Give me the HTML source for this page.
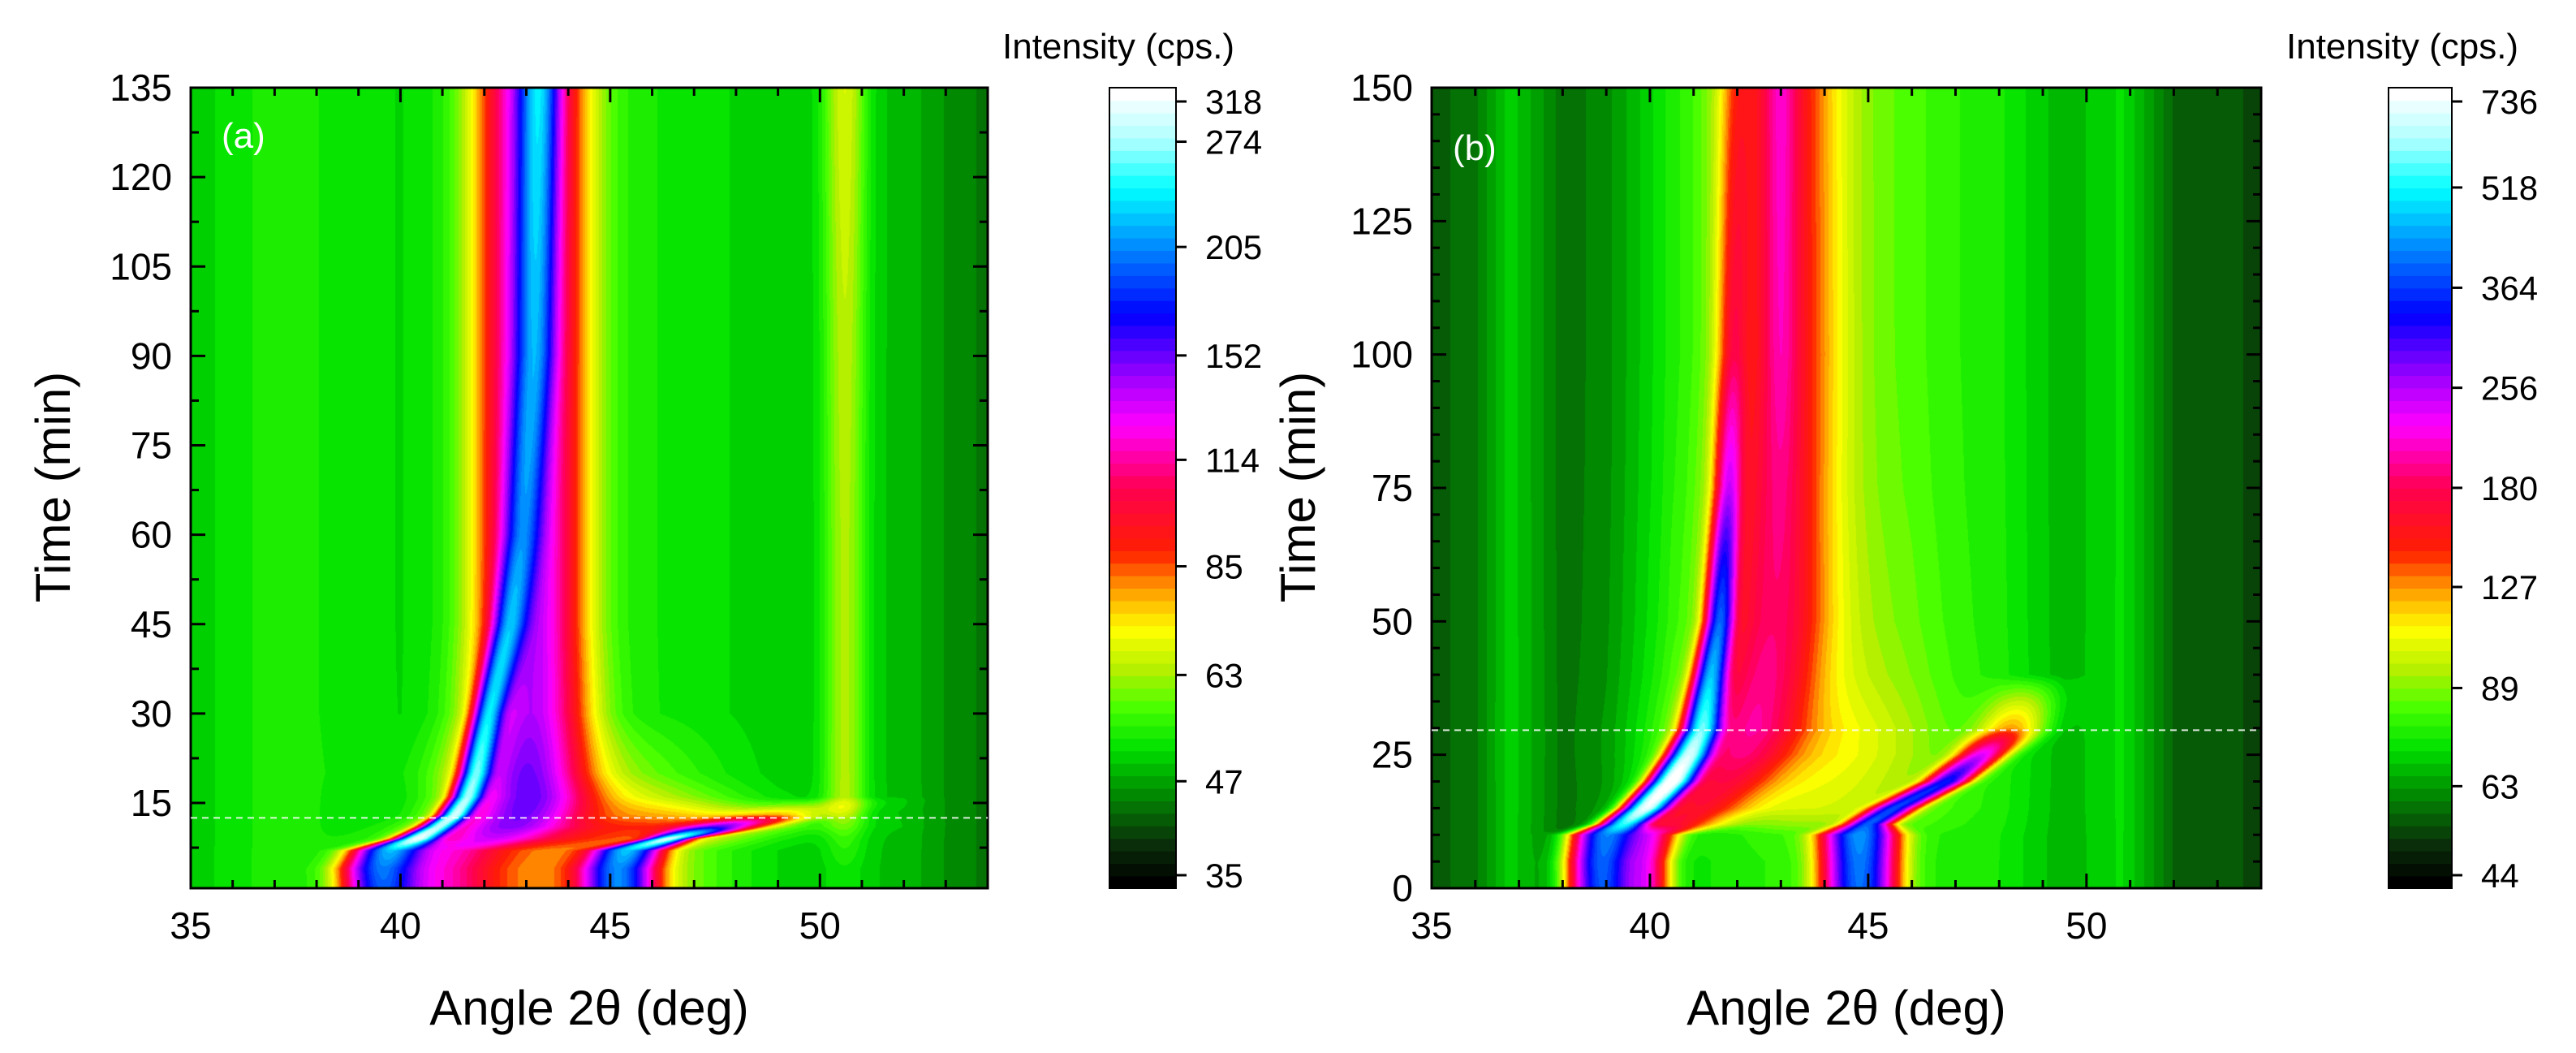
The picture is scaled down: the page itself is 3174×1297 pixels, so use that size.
<!DOCTYPE html>
<html><head><meta charset="utf-8"><style>
html,body{margin:0;padding:0;background:#fff;}
#wrap{position:relative;width:3174px;height:1297px;overflow:hidden;background:#fff;}
canvas{position:absolute;}
svg{position:absolute;left:0;top:0;}
text{font-family:"Liberation Sans",Arial,sans-serif;fill:#000;}
</style></head><body>
<div id="wrap">
<canvas id="cA" style="left:235px;top:108px" width="982" height="986"></canvas>
<canvas id="cB" style="left:1764px;top:108px" width="1022" height="986"></canvas>
<svg id="ov" width="3174" height="1297"></svg>
</div>
<script>
// ---------- Panel (a) data ----------
const timesA=[0,4,7,9,11,13,16,20,30,45,60,90,135];
const coreCenterA=[39.5,39.5,39.7,40.4,40.9,41.3,41.6,41.8,42.1,42.6,42.9,43.2,43.3];
const coreAmpA=[110,120,140,230,200,210,190,170,140,100,70,80,100];
const coreSigmaA=[0.55,0.55,0.5,0.3,0.25,0.22,0.22,0.22,0.22,0.25,0.28,0.3,0.3];
const shoulderCenterA=[40.8,40.8,41,42,42.5,42.8,43,43,43.1,43.1,43.1,43.1,43.1];
const shoulderAmpA=[60,60,60,70,85,90,90,88,85,85,85,85,85];
const shoulderSigmaA=[1.0,1.0,1.0,1.1,1.1,1.0,0.95,0.9,0.85,0.8,0.8,0.8,0.8];
const rightCenterA=[45.2,45.2,45.4,46.4,47.6,49,50.5,50.5,50.5,50.5,50.5,50.5,50.5];
const rightAmpA=[130,130,150,220,80,20,0,0,0,0,0,0,0];
const rightSigmaA=[0.55,0.55,0.5,0.3,0.6,0.8,1,1,1,1,1,1,1];
const diffuseCenterA=[44,44,44,45,46,46,45,44,44,44,44,44,44];
const diffuseAmpA=[25,25,25,30,35,25,15,10,0,0,0,0,0];
const weakAmpA=[3,3,5,6,8,12,14,14,14,14,14,15,18];
const weakCenterA=50.6;
const bgXA=[35,36,37,38,40,44,47,49,52,53,54];
const bgVA=[50,52,54,53,51,55,52,50,49,46,44];
const xTicksA=[35,40,45,50];
const yTicksA=[15,30,45,60,75,90,105,120,135];
const cbTicksA=[35,47,63,85,114,152,205,274,318];
// ---------- Panel (b) data ----------
const timesB=[0,5,10,12,15,20,25,30,40,50,75,100,150];
const coreCenterB=[38.9,38.9,39.0,39.4,39.9,40.5,40.9,41.2,41.4,41.6,41.8,41.9,42.0];
const coreAmpB=[320,330,350,450,600,650,550,450,350,280,130,60,30];
const coreSigmaB=[0.45,0.45,0.45,0.3,0.28,0.28,0.27,0.25,0.22,0.2,0.2,0.22,0.25];
const shoulderCenterB=[39.9,39.9,40,40.5,41,41.6,42,42.3,42.6,42.8,42.9,43,43.0];
const shoulderAmpB=[140,140,140,90,80,80,90,95,95,92,88,82,78];
const shoulderSigmaB=[0.35,0.35,0.4,0.7,0.8,0.8,0.8,0.8,0.8,0.8,0.8,0.8,0.8];
const narrowAmpB=[0,0,0,0,0,0,0,0,0,0,15,35,45];
const narrowCenterB=43.0;
const rightCenterB=[44.8,44.8,44.8,45.0,45.6,46.8,47.6,48.3,48.8,49,49,49,49];
const rightAmpB=[320,330,350,300,280,260,160,50,0,0,0,0,0];
const rightSigmaB=[0.5,0.5,0.5,0.3,0.3,0.3,0.35,0.5,0.6,0.6,0.6,0.6,0.6];
const diffuseAmpB=[8,8,10,20,30,35,40,40,30,25,20,18,18];
const diffuseCenterB=43.5;
const bgXB=[35,36,36.8,38,39,40.5,42,44,46,48,49.5,50.8,52,53.5,54];
const bgVB=[56,59,70,58,60,70,70,72,75,74,66,72,57,55,54];
const xTicksB=[35,40,45,50];
const yTicksB=[0,25,50,75,100,125,150];
const cbTicksB=[44,63,89,127,180,256,364,518,736];

// colormap stops (fraction, rgb)
const cmapPos=[0,0.05,0.12,0.17,0.22,0.27,0.32,0.37,0.42,0.5,0.58,0.64,0.72,0.8,0.88,0.94,1];
const cmapCol=[[0,0,0],[10,48,10],[0,150,0],[0,225,0],[70,255,0],[180,240,0],[255,255,0],[255,160,0],[255,30,0],[255,0,80],[255,0,255],[160,0,255],[0,0,255],[0,128,255],[0,255,255],[170,255,255],[255,255,255]];
function cmap(f){
  f=Math.max(0,Math.min(1,f));
  f=Math.floor(f*63.999)/63;
  for(let i=1;i<cmapPos.length;i++){ if(f<=cmapPos[i]){const t=(f-cmapPos[i-1])/(cmapPos[i]-cmapPos[i-1]);const a=cmapCol[i-1],b=cmapCol[i];return [a[0]+(b[0]-a[0])*t,a[1]+(b[1]-a[1])*t,a[2]+(b[2]-a[2])*t];}}
  return cmapCol[cmapCol.length-1];
}
function interp(xs,vs,x){
  if(x<=xs[0])return vs[0];
  for(let i=1;i<xs.length;i++){if(x<=xs[i]){const t=(x-xs[i-1])/(xs[i]-xs[i-1]);return vs[i-1]+(vs[i]-vs[i-1])*t;}}
  return vs[vs.length-1];
}
const g=(x,c,s)=>Math.exp(-0.5*((x-c)/s)*((x-c)/s));

function drawHeat(id,xmin,xmax,tmin,tmax,vmin,vmax,fn){
  const cv=document.getElementById(id),ctx=cv.getContext('2d');
  const W=cv.width,H=cv.height,img=ctx.createImageData(W,H);
  const lmin=Math.log(vmin),lr=Math.log(vmax)-lmin;
  for(let j=0;j<H;j++){
    const t=tmax-(j+0.5)/H*(tmax-tmin);
    const p=fn.prep(t);
    for(let i=0;i<W;i++){
      const x=xmin+(i+0.5)/W*(xmax-xmin);
      const v=fn.val(x,p);
      const c=cmap((Math.log(v)-lmin)/lr);
      const k=(j*W+i)*4;img.data[k]=c[0];img.data[k+1]=c[1];img.data[k+2]=c[2];img.data[k+3]=255;
    }
  }
  ctx.putImageData(img,0,0);
}
drawHeat('cA',35,54,0.7,135,35,318,{
  prep:t=>({cc:interp(timesA,coreCenterA,t),ca:interp(timesA,coreAmpA,t),cs:interp(timesA,coreSigmaA,t),
    sc:interp(timesA,shoulderCenterA,t),sa:interp(timesA,shoulderAmpA,t),ss:interp(timesA,shoulderSigmaA,t),
    rc:interp(timesA,rightCenterA,t),ra:interp(timesA,rightAmpA,t),rs:interp(timesA,rightSigmaA,t),
    dc:interp(timesA,diffuseCenterA,t),da:interp(timesA,diffuseAmpA,t),wa:interp(timesA,weakAmpA,t)}),
  val:(x,p)=>interp(bgXA,bgVA,x)+p.ca*g(x,p.cc,p.cs)+p.sa*g(x,p.sc,p.ss)+p.ra*g(x,p.rc,p.rs)+p.da*g(x,p.dc,2)+p.wa*g(x,weakCenterA,0.35)
});
drawHeat('cB',35,54,0,150,44,736,{
  prep:t=>({cc:interp(timesB,coreCenterB,t),ca:interp(timesB,coreAmpB,t),cs:interp(timesB,coreSigmaB,t),
    sc:interp(timesB,shoulderCenterB,t),sa:interp(timesB,shoulderAmpB,t),ss:interp(timesB,shoulderSigmaB,t),
    rc:interp(timesB,rightCenterB,t),ra:interp(timesB,rightAmpB,t),rs:interp(timesB,rightSigmaB,t),
    da:interp(timesB,diffuseAmpB,t),na:interp(timesB,narrowAmpB,t)}),
  val:(x,p)=>interp(bgXB,bgVB,x)+p.ca*g(x,p.cc,p.cs)+p.sa*g(x,p.sc,p.ss)+p.ra*g(x,p.rc,p.rs)+p.da*g(x,diffuseCenterB,2)+p.na*g(x,narrowCenterB,0.25)
});

// ---------- overlay ----------
const NS='http://www.w3.org/2000/svg',ov=document.getElementById('ov');
function el(tag,attrs,txt){const e=document.createElementNS(NS,tag);for(const k in attrs)e.setAttribute(k,attrs[k]);if(txt!==undefined)e.textContent=txt;ov.appendChild(e);return e;}
function panel(P){
  const xs=v=>P.L+(v-35)/(54-35)*(P.R-P.L);
  const ys=v=>P.B-(v-P.tmin)/(P.tmax-P.tmin)*(P.B-P.T);
  let e=el('rect',{x:P.L,y:P.T,width:P.R-P.L,height:P.B-P.T,fill:'none',stroke:'#000','stroke-width':3});
  
  for(let v=35;v<=54;v+=1){const X=xs(v),maj=(v%5===0),len=maj?18:10;
    el('line',{x1:X,y1:P.B,x2:X,y2:P.B-len,stroke:'#000','stroke-width':3});
    el('line',{x1:X,y1:P.T,x2:X,y2:P.T+len,stroke:'#000','stroke-width':3});}
  for(let v=P.tmin0;v<=P.tmax;v+=P.minor){const Y=ys(v),maj=(Math.abs(v/P.major-Math.round(v/P.major))<1e-6),len=maj?18:10;
    el('line',{x1:P.L,y1:Y,x2:P.L+len,y2:Y,stroke:'#000','stroke-width':3});
    el('line',{x1:P.R,y1:Y,x2:P.R-len,y2:Y,stroke:'#000','stroke-width':3});}
  P.xt.forEach(v=>{const t=el('text',{x:xs(v),y:1156,'font-size':46,'text-anchor':'middle'},String(v));
    });
  P.yt.forEach(v=>{const t=el('text',{x:P.L-23,y:ys(v)+16,'font-size':46,'text-anchor':'end'},String(v));
    });
  e=el('line',{x1:P.L,y1:ys(P.dash),x2:P.R,y2:ys(P.dash),stroke:'#fff','stroke-width':2,'stroke-dasharray':'8,6',opacity:0.85});
  
  e=el('text',{x:P.lx,y:P.ly,'font-size':44,style:'fill:#fff'},'('+P.id+')');
  
  e=el('text',{x:(P.L+P.R)/2,y:1262,'font-size':60,'text-anchor':'middle'},'Angle 2θ (deg)');
  
  e=el('text',{x:0,y:0,'font-size':60,'text-anchor':'middle',transform:'translate('+P.ytx+',600) rotate(-90)'},'Time (min)');
  
  const cbT=125,cbB=1078,n=64,lmin=Math.log(P.vmin),lr=Math.log(P.vmax)-lmin;
  for(let i=0;i<n;i++){const c=cmap((i+0.5)/n);const y0=P.cbBot-(i+1)/n*(P.cbBot-P.T);
    el('rect',{x:P.cbL,y:y0,width:P.cbR-P.cbL,height:(P.cbBot-P.T)/n+0.8,fill:'rgb('+c.map(Math.round).join(',')+')'});}
  e=el('rect',{x:P.cbL,y:P.T,width:P.cbR-P.cbL,height:P.cbBot-P.T,fill:'none',stroke:'#000','stroke-width':2});
  
  P.cbt.forEach(v=>{const Y=P.cbBot-(Math.log(v)-lmin)/lr*(P.cbBot-P.T);
    const yy=Math.min(cbB,Math.max(cbT,Y));
    el('line',{x1:P.cbR,y1:yy,x2:P.cbR+13,y2:yy,stroke:'#000','stroke-width':3});
    const t=el('text',{x:P.cbR+36,y:yy+15,'font-size':42},String(v));
    });
  e=el('text',{x:P.ctx,y:72,'font-size':44},'Intensity (cps.)');
  
}
panel({id:'a',L:235,R:1217,T:108,B:1094,tmin:0.7,tmin0:7.5,tmax:135,major:15,minor:7.5,xt:xTicksA,yt:yTicksA,dash:12.5,lx:273,ly:182,ytx:86,
  cbL:1367,cbR:1449,cbBot:1094,vmin:35,vmax:318,cbt:cbTicksA,ctx:1235});
panel({id:'b',L:1764,R:2786,T:108,B:1094,tmin:0,tmin0:0,tmax:150,major:25,minor:5,xt:xTicksB,yt:yTicksB,dash:29.6,lx:1790,ly:197,ytx:1620,
  cbL:2943,cbR:3021,cbBot:1094,vmin:44,vmax:736,cbt:cbTicksB,ctx:2817});
</script>
</body></html>
